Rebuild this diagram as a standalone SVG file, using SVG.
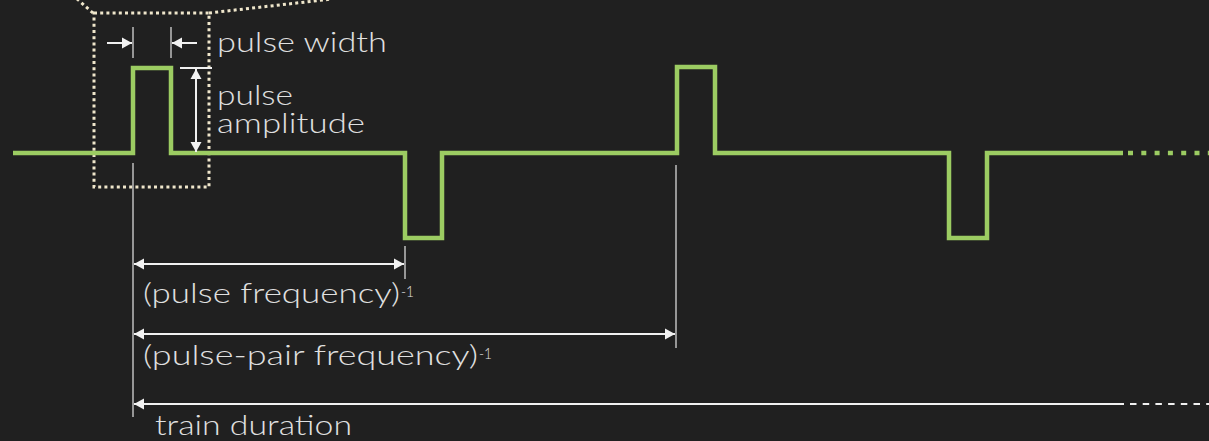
<svg xmlns="http://www.w3.org/2000/svg" width="1209" height="441" viewBox="0 0 1209 441">
<defs>
<marker id="ah" markerUnits="userSpaceOnUse" markerWidth="11" markerHeight="12" refX="10" refY="6" orient="auto-start-reverse">
<path d="M0,0.5 L10,6 L0,11.5 z" fill="#f2f2f2"/>
</marker>
<style>
.wave{fill:none;stroke:#9ccc62;stroke-width:4.5;stroke-linejoin:miter;stroke-linecap:butt}
.dim{fill:none;stroke:#f0f0f0;stroke-width:2}
.tick{fill:none;stroke:#b4b4b4;stroke-width:1.6}
.box{fill:none;stroke:#efe6cb;stroke-width:3;stroke-dasharray:3 3.2}
.lbl{font-family:Lato,"Liberation Sans",sans-serif;font-weight:300;font-size:28px;fill:#e0e0e0}
.sup{font-family:Lato,"Liberation Sans",sans-serif;font-weight:300;font-size:16px;fill:#e0e0e0}
</style>
</defs>
<rect width="1209" height="441" fill="#202020"/>

<g id="zoom-box">
<rect class="box" x="94" y="13" width="115" height="174"/>
<path class="box" d="M93,13 L76,-2 M209,13 L332,-1"/>
</g>

<g id="waveform">
<path class="wave" d="M13,153 H133 V68 H171 V153 H405 V238 H442 V153 H677 V67 H715 V153 H949 V238 H987 V153 H1123"/>
<path class="wave" d="M1128,153 H1209" stroke-dasharray="5 8.3"/>
</g>

<g id="connectors">
<path class="tick" d="M133,27 V58 M171,27 V58"/>
<path class="tick" d="M133,163 V417 M405,246 V279 M676,165 V348"/>
<path class="dim" d="M180,68 H212"/>
<path class="dim" d="M107,43 H132" marker-end="url(#ah)"/>
<path class="dim" d="M197,43 H172" marker-end="url(#ah)"/>
<path class="dim" d="M196,69 V152" marker-start="url(#ah)" marker-end="url(#ah)"/>
<path class="dim" d="M134,264 H404" marker-start="url(#ah)" marker-end="url(#ah)"/>
<path class="dim" d="M134,334 H675" marker-start="url(#ah)" marker-end="url(#ah)"/>
<path class="dim" d="M1124,404 H134" marker-end="url(#ah)"/>
<path class="dim" d="M1130,404 H1209" stroke-dasharray="6.5 6.2"/>
</g>

<g id="label-pulse-width">
<text class="lbl" x="217" y="52" textLength="170" lengthAdjust="spacingAndGlyphs">pulse width</text>
</g>
<g id="label-pulse-amplitude">
<text class="lbl" x="217" y="105" textLength="76" lengthAdjust="spacingAndGlyphs">pulse</text>
<text class="lbl" x="217" y="133" textLength="148" lengthAdjust="spacingAndGlyphs">amplitude</text>
</g>
<g id="label-pulse-frequency">
<text class="lbl" x="143" y="303" textLength="257" lengthAdjust="spacingAndGlyphs">(pulse frequency)</text>
<text class="sup" x="401" y="297" textLength="13" lengthAdjust="spacingAndGlyphs">-1</text>
</g>
<g id="label-pulse-pair-frequency">
<text class="lbl" x="143" y="365" textLength="335" lengthAdjust="spacingAndGlyphs">(pulse-pair frequency)</text>
<text class="sup" x="479" y="359" textLength="13" lengthAdjust="spacingAndGlyphs">-1</text>
</g>
<g id="label-train-duration">
<text class="lbl" x="155" y="435" textLength="197" lengthAdjust="spacingAndGlyphs">train duration</text>
</g>
</svg>
